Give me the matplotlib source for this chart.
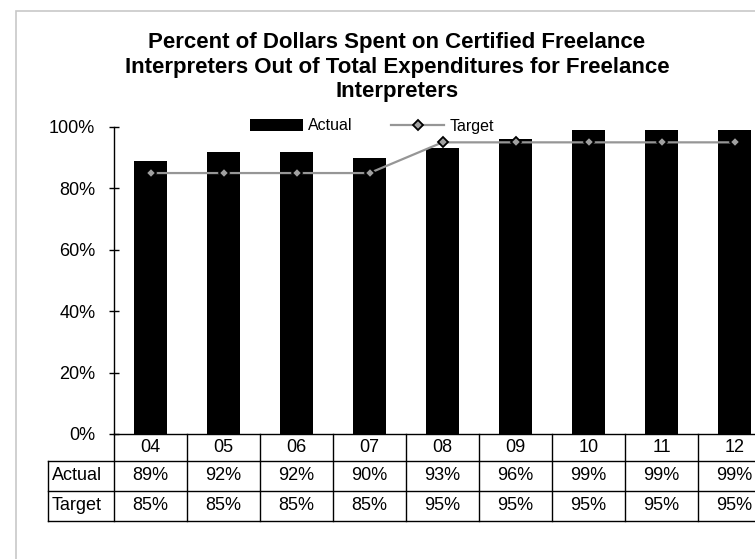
import matplotlib as mpl
import matplotlib.pyplot as plt
import matplotlib.transforms as mtransforms
from matplotlib.patches import Rectangle
from matplotlib.lines import Line2D

mpl.rc("font", family="Liberation Sans", size=13)

# data
years = ["04", "05", "06", "07", "08", "09", "10", "11", "12"]
actual = [89, 92, 92, 90, 93, 96, 99, 99, 99]
target = [85, 85, 85, 85, 95, 95, 95, 95, 95]
title = ("Percent of Dollars Spent on Certified Freelance\n"
         "Interpreters Out of Total Expenditures for Freelance\n"
         "Interpreters")

W, H = 755, 559
fig = plt.figure(figsize=(W / 100, H / 100), dpi=100)

# outer chart frame (runs off the right / bottom edge)
fig.patches.append(Rectangle((16 / W, -0.1), 1.2, 1 - 11 / H + 0.1,
                             transform=fig.transFigure, fill=False,
                             edgecolor="#c8c8c8", linewidth=1.2))

# axes spans 114..771 px horizontally, 127..434 px vertically
ax = fig.add_axes([114 / W, 1 - 434 / H, (771 - 114) / W, (434 - 127) / H])
x = list(range(len(years)))
bars = ax.bar(x, [a / 100 for a in actual], width=0.44, color="black", label="Actual")
line, = ax.plot(x, [t / 100 for t in target], color="#969696", linewidth=1.6,
                marker="D", markersize=5.5, markerfacecolor="#a0a0a0",
                markeredgecolor="black", markeredgewidth=1.3, label="Target")

ax.set_xlim(-0.5, len(years) - 0.5)
ax.set_ylim(0, 1)
ax.set_yticks([0, 0.2, 0.4, 0.6, 0.8, 1.0])
ax.set_yticklabels(["0%", "20%", "40%", "60%", "80%", "100%"])
ax.tick_params(axis="y", direction="inout", length=7, width=1, pad=10)
ax.set_xticks([])
for s in ["top", "right"]:
    ax.spines[s].set_visible(False)
ax.spines["left"].set_linewidth(1)
ax.spines["bottom"].set_linewidth(1)

# data table under the axis
tr = mtransforms.blended_transform_factory(ax.transData, ax.transAxes)
px = 1 / ((434 - 127))  # one pixel in axes fraction
r0, r1, r2, r3 = 0, -27 * px, -57 * px, -87 * px
lab_left = -0.5 - (114 - 48) / 73
n = len(years)
lw = 1
for i in range(n + 1):
    ax.add_line(Line2D([i - 0.5, i - 0.5], [r0, r3], transform=tr, color="black",
                       linewidth=lw, clip_on=False))
ax.add_line(Line2D([lab_left, lab_left], [r1, r3], transform=tr, color="black",
                   linewidth=lw, clip_on=False))
for yy in [r1, r2, r3]:
    ax.add_line(Line2D([lab_left, n - 0.5], [yy, yy], transform=tr, color="black",
                       linewidth=lw, clip_on=False))
for i, yr in enumerate(years):
    ax.text(i, (r0 + r1) / 2, yr, transform=tr, ha="center", va="center")
    ax.text(i, (r1 + r2) / 2, "{}%".format(actual[i]), transform=tr, ha="center", va="center")
    ax.text(i, (r2 + r3) / 2, "{}%".format(target[i]), transform=tr, ha="center", va="center")
ax.text(lab_left + 0.05, (r1 + r2) / 2, "Actual", transform=tr, ha="left", va="center")
ax.text(lab_left + 0.05, (r2 + r3) / 2, "Target", transform=tr, ha="left", va="center")

fig.text(397 / W, 1 - 67 / H, title, ha="center", va="center",
         fontsize=16, fontweight="bold", linespacing=1.2)

fig.legend([bars, line], ["Actual", "Target"], loc="center",
           bbox_to_anchor=(372 / W, 1 - 126 / H), ncol=2,
           frameon=False, fontsize=11.5, handlelength=3.3, handletextpad=0.35,
           columnspacing=2.4)

fig.savefig("out.png", dpi=100)
